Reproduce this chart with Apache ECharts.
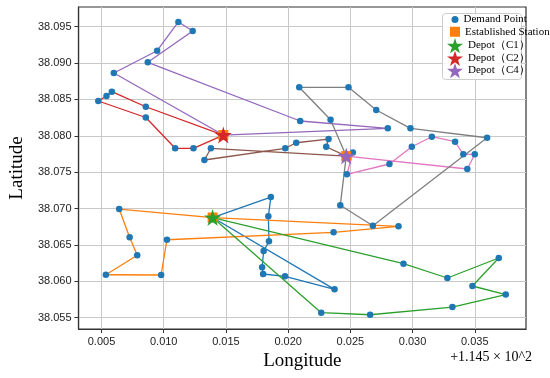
<!DOCTYPE html>
<html><head><meta charset="utf-8">
<script src="https://cdn.jsdelivr.net/npm/echarts@6/dist/echarts.min.js"></script>
<style>html,body{margin:0;padding:0;background:#fff}#c{width:550px;height:378px}</style>
</head><body><div id="c"></div>
<script>
// ---- data (longitude offset from 114.5, latitude) ----
const xTicks = [0.005, 0.010, 0.015, 0.020, 0.025, 0.030, 0.035];
const yTicks = [38.055, 38.060, 38.065, 38.070, 38.075, 38.080, 38.085, 38.090, 38.095];

const depotC1 = [0.01393, 38.06877];
const depotC2 = [0.01479, 38.08011];
const depotC4 = [0.02467, 38.07722];
const stations = [[0.01393, 38.06877], [0.01479, 38.08011], [0.02467, 38.07722]];

const routeBlue = [[0.01861,38.07159],[0.01841,38.06894],[0.01846,38.06550],[0.01803,38.06417],[0.01791,38.06193],[0.01799,38.06101],[0.01975,38.06069],[0.02373,38.05890]];
const routeOrange = [[0.00642,38.06994],[0.00726,38.06605],[0.00787,38.06358],[0.00535,38.06091],[0.00979,38.06087],[0.01026,38.06572],[0.02365,38.06674],[0.02887,38.06756]];
const routeGreen = [[0.02927,38.06242],[0.03280,38.06046],[0.03693,38.06321],[0.03481,38.05936],[0.03749,38.05819],[0.03320,38.05647],[0.02659,38.05541],[0.02266,38.05569]];
const routeRed = [[0.00856,38.08400],[0.00583,38.08607],[0.00540,38.08547],[0.00474,38.08479],[0.00856,38.08252],[0.01092,38.07829],[0.01239,38.07829]];
const routePurple = [[0.00599,38.08864],[0.00947,38.09170],[0.01118,38.09565],[0.01233,38.09441],[0.00872,38.09011],[0.02097,38.08204],[0.02801,38.08103]];
const routeBrown = [[0.01379,38.07829],[0.01327,38.07668],[0.01977,38.07829],[0.02065,38.07905],[0.02325,38.07956],[0.02306,38.07850]];
const routePink = [[0.02520,38.07771],[0.02472,38.07471],[0.02814,38.07613],[0.02994,38.07850],[0.03155,38.07988],[0.03342,38.07919],[0.03408,38.07746],[0.03500,38.07746],[0.03440,38.07544]];
const routeGray = [[0.02341,38.08222],[0.02089,38.08667],[0.02485,38.08667],[0.02708,38.08355],[0.02983,38.08103],[0.03599,38.07974],[0.02681,38.06765],[0.02419,38.07045]];

const routes = [
  {r: routeBlue, d: depotC1, c: '#1f77b4'},
  {r: routeOrange, d: depotC1, c: '#ff7f0e'},
  {r: routeGreen, d: depotC1, c: '#2ca02c'},
  {r: routeRed, d: depotC2, c: '#d62728'},
  {r: routePurple, d: depotC2, c: '#9467bd'},
  {r: routeBrown, d: depotC4, c: '#8c564b'},
  {r: routePink, d: depotC4, c: '#e377c2'},
  {r: routeGray, d: depotC4, c: '#7f7f7f'}
];

const STAR = 'path://M100,0L122.45,69.1L195.1,69.1L136.3,111.8L158.8,180.9L100,138.2L41.2,180.9L63.7,111.8L4.9,69.1L77.55,69.1Z';
const demand = [].concat(routeBlue, routeOrange, routeGreen, routeRed, routePurple, routeBrown, routePink, routeGray);

const series = routes.map((o, i) => ({
  name: 'route' + i, type: 'line', data: [o.d].concat(o.r, [o.d]),
  symbol: 'none', lineStyle: {color: o.c, width: 1.3}, itemStyle: {color: o.c},
  z: 2, silent: true, animation: false
}));
series.push({name: 'Demand Point', type: 'scatter', data: demand, symbol: 'circle', symbolSize: 6.5,
  itemStyle: {color: '#1f77b4', opacity: 1}, z: 3, animation: false});
series.push({name: 'Established Station', type: 'scatter', data: stations, symbol: 'rect', symbolSize: 10,
  itemStyle: {color: '#ff7f0e', opacity: 1}, z: 4, animation: false});
series.push({name: 'Depot（C1）', type: 'scatter', data: [depotC1], symbol: STAR, symbolSize: 17,
  itemStyle: {color: '#2ca02c', opacity: 1}, z: 5, animation: false});
series.push({name: 'Depot（C2）', type: 'scatter', data: [depotC2], symbol: STAR, symbolSize: 17,
  itemStyle: {color: '#d62728', opacity: 1}, z: 5, animation: false});
series.push({name: 'Depot（C4）', type: 'scatter', data: [depotC4], symbol: STAR, symbolSize: 17,
  itemStyle: {color: '#9467bd', opacity: 1}, z: 5, animation: false});

const legTxt = {fontFamily: 'Liberation Serif', fontSize: 11, color: '#000'};
function leg(name, icon, size, cy, gap) {
  return {data: [{name: name, icon: icon}], orient: 'vertical', left: 455 - size / 2, top: cy - Math.max(size, 14) / 2,
    itemWidth: size, itemHeight: size, itemTextGap: gap, padding: 0, selectedMode: false,
    textStyle: legTxt, z: 60};
}

const chart = echarts.init(document.getElementById('c'), null, {renderer: 'canvas'});
chart.setOption({
  animation: false,
  grid: {left: 78, right: 24, top: 7, bottom: 49, show: true, borderColor: '#333', borderWidth: 1.2},
  xAxis: {
    type: 'value', min: 0.003154, max: 0.039118,
    name: 'Longitude', nameLocation: 'middle', nameGap: 18,
    nameTextStyle: {fontFamily: 'Liberation Serif', fontSize: 19, color: '#000'},
    axisLine: {show: true, onZero: false, lineStyle: {color: '#333', width: 1.2}},
    axisTick: {show: true, length: 4, customValues: xTicks, lineStyle: {color: '#333'}},
    axisLabel: {customValues: xTicks, formatter: v => v.toFixed(3), fontFamily: 'Liberation Sans', fontSize: 11, color: '#222', margin: 7},
    splitLine: {show: true, lineStyle: {color: '#c8c8c8', width: 1}}
  },
  yAxis: {
    type: 'value', min: 38.05345, max: 38.09771,
    name: 'Latitude', nameLocation: 'middle', nameGap: 51,
    nameTextStyle: {fontFamily: 'Liberation Serif', fontSize: 19, color: '#000'},
    axisLine: {show: true, onZero: false, lineStyle: {color: '#333', width: 1.2}},
    axisTick: {show: true, length: 4, customValues: yTicks, lineStyle: {color: '#333'}},
    axisLabel: {customValues: yTicks, formatter: v => v.toFixed(3), fontFamily: 'Liberation Sans', fontSize: 11, color: '#222', margin: 7},
    splitLine: {show: true, lineStyle: {color: '#c8c8c8', width: 1}}
  },
  legend: [
    leg('Demand Point', 'circle', 7, 21, 8),
    leg('Established Station', 'rect', 10, 33.3, 6.5),
    leg('Depot（C1）', STAR, 16, 46, 4),
    leg('Depot（C2）', STAR, 16, 58.7, 4),
    leg('Depot（C4）', STAR, 16, 71, 4)
  ],
  graphic: [
    {type: 'rect', left: 442, top: 13, z: 50, shape: {width: 79, height: 66, r: 3},
      style: {fill: 'rgba(255,255,255,0.85)', stroke: '#cccccc', lineWidth: 1}},
    {type: 'text', right: 18, top: 350, z: 50,
      style: {text: '+1.145 × 10^2', font: '14px "Liberation Serif"', fill: '#000'}}
  ],
  series: series
});
</script></body></html>
